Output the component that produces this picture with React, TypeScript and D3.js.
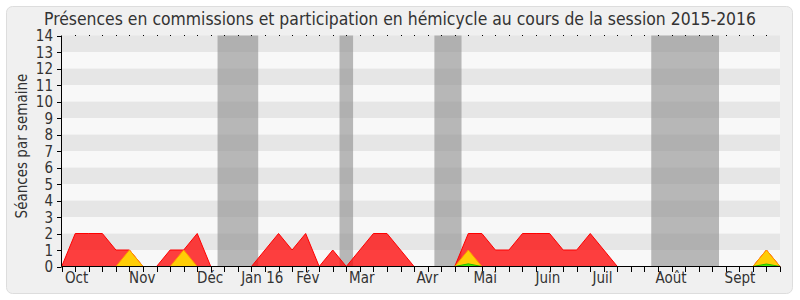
import React from "react";
import * as d3 from "d3";

const TITLE = "Présences en commissions et participation en hémicycle au cours de la session 2015-2016";
const Y_LABEL = "Séances par semaine";

// weekly values, weeks 0..53
const redSeries = [0,2,2,2,1,1,0,0,1,1,2,0,0,0,0,1,2,1,2,0,1,0,1,2,2,1,0,0,0,0,2,2,1,1,2,2,2,1,1,2,1,0,0,0,0,0,0,0,0,0,0,0,1,0];
const yellowSeries = [0,0,0,0,0,1,0,0,0,1,0,0,0,0,0,0,0,0,0,0,0,0,0,0,0,0,0,0,0,0,1,0,0,0,0,0,0,0,0,0,0,0,0,0,0,0,0,0,0,0,0,0,1,0];
const greenSeries = [0,0,0,0,0,0,0,0,0,0,0,0,0,0,0,0,0,0,0,0,0,0,0,0,0,0,0,0,0,0,0.16,0,0,0,0,0,0,0,0,0,0,0,0,0,0,0,0,0,0,0,0,0,0.15,0];

// vacation periods (in weeks)
const vacations: [number, number][] = [[11.5,14.5],[20.5,21.5],[27.5,29.5],[43.5,48.5]];

const monthLabels = ["Oct","Nov","Déc","Jan 16","Fév","Mar","Avr","Mai","Juin","Juil","Août","Sept"];
const monthWeeks = [0.24,4.97,9.99,13.24,17.3,21.2,26.17,30.38,34.96,39.17,43.82,48.91];

const yTicks = d3.range(0, 15);
const N_WEEKS = 53;
const Y_MAX = 14;

export default function App() {
  const W = 800, H = 300;
  const x = d3.scaleLinear().domain([0, N_WEEKS]).range([61.7, 780]);
  const y = d3.scaleLinear().domain([0, Y_MAX]).range([266.5, 35.5]);
  const weeks = d3.range(0, N_WEEKS + 1);

  const area = (vals: number[]) =>
    d3.area<number>().x((_, i) => x(i)).y0(y(0)).y1((d) => y(d))(vals) || "";

  const font = "'DejaVu Sans', Verdana, sans-serif";
  const condensed = "'DejaVu Sans Condensed', 'DejaVu Sans', sans-serif";
  const cs = { fontStretch: "condensed" } as React.CSSProperties;

  return (
    <div style={{ position: "fixed", left: 0, top: 0 }}>
      <svg width={W} height={H} style={{ display: "block" }} fontFamily={font}>
        <rect x={0} y={0} width={W} height={H} fill="#ffffff" />
        <rect x={6.5} y={6.5} width={786} height={287} rx={6} fill="#f0f0f0" stroke="#dddddd" />
        <text x={400} y={24.5} textAnchor="middle" fontSize={17.4} fill="#333" fontFamily={condensed} style={cs}>{TITLE}</text>
        {/* stripes */}
        {d3.range(0, Y_MAX).map((k) => (
          <rect key={"s" + k} x={x(0)} width={x(N_WEEKS) - x(0)} y={y(k + 1)} height={y(k) - y(k + 1)}
            fill={k % 2 === 1 ? "#e6e6e6" : "#f8f8f8"} />
        ))}
        {/* vacations */}
        {vacations.map(([a, b], i) => (
          <rect key={"v" + i} x={x(a)} width={x(b) - x(a)} y={y(Y_MAX)} height={y(0) - y(Y_MAX)}
            fill="#8c8c8c" opacity={0.6} />
        ))}
        {/* areas */}
        <path d={area(redSeries)} fill="#ff0000" fillOpacity={0.75} stroke="#ff0000" strokeWidth={1} />
        <path d={area(yellowSeries)} fill="#ffdd00" fillOpacity={0.9} stroke="#ff9900" strokeWidth={1} />
        <path d={area(greenSeries)} fill="#33ee00" fillOpacity={0.9} stroke="#22bb00" strokeWidth={1} />
        {/* top dots */}
        {weeks.slice(1, N_WEEKS).map((w) => (
          <rect key={"d" + w} x={Math.round(x(w))} y={35} width={1} height={1} fill="#000" />
        ))}
        {/* y axis */}
        <line x1={61.5} x2={61.5} y1={y(Y_MAX)} y2={y(0)} stroke="#000" />
        {yTicks.map((t) => (
          <g key={"y" + t}>
            <line x1={57} x2={61.5} y1={Math.round(y(t)) + 0.5} y2={Math.round(y(t)) + 0.5} stroke="#000" />
            <text x={53} y={y(t) + 5.5} textAnchor="end" fontSize={15} fill="#333" fontFamily={condensed} style={cs}>{t}</text>
          </g>
        ))}
        <text transform={`translate(26.5,146) rotate(-90)`} textAnchor="middle" fontSize={15} fill="#333" fontFamily={condensed} style={cs}>{Y_LABEL}</text>
        {/* x axis */}
        <line x1={x(0)} x2={x(N_WEEKS)} y1={266.5} y2={266.5} stroke="#000" />
        {weeks.map((w) => (
          <line key={"x" + w} x1={Math.round(x(w)) + 0.5} x2={Math.round(x(w)) + 0.5} y1={266.5} y2={272} stroke="#000" />
        ))}
        {monthLabels.map((m, i) => (
          <text key={"m" + i} x={x(monthWeeks[i])} y={283} fontSize={15} fill="#333" fontFamily={condensed} style={cs}>{m}</text>
        ))}
      </svg>
    </div>
  );
}
